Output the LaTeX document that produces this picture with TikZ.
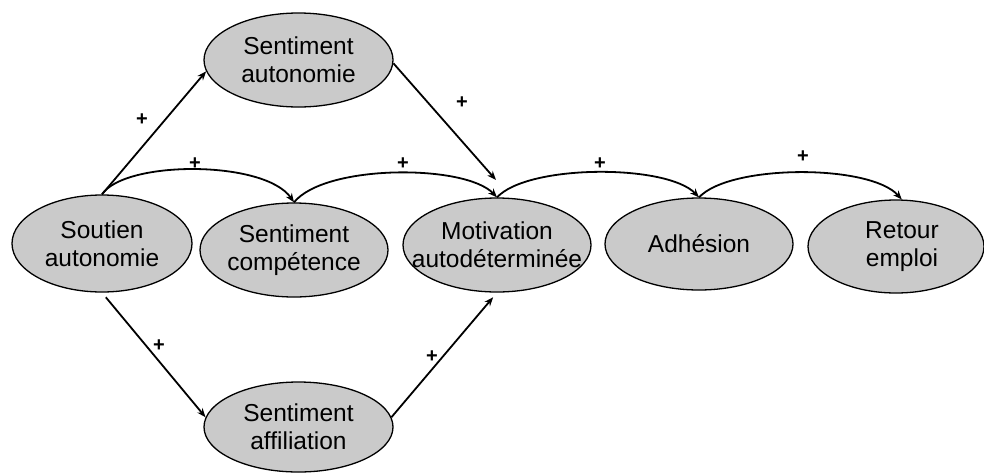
\documentclass[tikz,border=0pt]{standalone}
\usepackage{fontspec}
\setmainfont{Liberation Sans}
\usetikzlibrary{shapes.geometric,arrows.meta}
\definecolor{nodegray}{RGB}{202,202,202}
\begin{document}
\begin{tikzpicture}[x=1pt,y=-1pt,
  ell/.style={ellipse, draw=black, line width=1.3pt, fill=nodegray, inner sep=0pt},
  txt/.style={align=center, inner sep=0pt, font=\fontsize{24.5}{28}\selectfont},
  conn/.style={line width=1.8pt, -{Stealth[length=9pt,width=7pt]}},
  plus/.style={inner sep=0pt, font=\fontsize{20}{20}\selectfont\bfseries}]
\useasboundingbox (0,0) rectangle (984,472);

% ellipses
\node[ell, minimum width=189pt, minimum height=94pt] (SA) at (298.5,60) {};
\node[ell, minimum width=180pt, minimum height=97pt] (SO) at (102,243.5) {};
\node[ell, minimum width=188pt, minimum height=94pt] (SC) at (294,250) {};
\node[ell, minimum width=188pt, minimum height=94pt] (MO) at (497,245) {};
\node[ell, minimum width=188pt, minimum height=92pt] (AD) at (699,244) {};
\node[ell, minimum width=176pt, minimum height=93pt] (RE) at (896,246.5) {};
\node[ell, minimum width=189pt, minimum height=90pt] (AF) at (298.5,427) {};

% texts
\node[txt] (SAt) at (SA) {Sentiment\\autonomie};
\node[txt] (SOt) at (SO) {Soutien\\autonomie};
\node[txt] (SCt) at (SC) {Sentiment\\compétence};
\node[txt] (MOt) at (MO) {Motivation\\autodéterminée};
\node[txt] (ADt) at (AD) {Adhésion};
\node[txt] (REt) at ([xshift=6pt]RE.center) {Retour\\emploi};
\node[txt] (AFt) at (AF) {Sentiment\\affiliation};

% straight connectors
\coordinate (MOtop) at (496,180);
\draw[conn] (SO.north) -- (SA.187);
\draw[conn] (SA.358) -- (MOtop);
\draw[conn, shorten <=6pt] (SO.south) -- (AF.174);
\draw[conn, shorten >=6pt] (AF.6) -- (MO.south);

% curved connectors
\draw[conn] (SO.north) .. controls (125,160) and (265,160) .. (SC.north);
\draw[conn] (SC.north) .. controls (325,164) and (465,164) .. (MO.north);
\draw[conn] (MO.north) .. controls (528,164) and (667,164) .. (AD.north);
\draw[conn] (AD.north) .. controls (730,164) and (870,164) .. (RE.83);

% labels
\node[plus] (p1) at (142,120) {+};
\node[plus] (p2) at (462,103) {+};
\node[plus] (p3) at (195,164) {+};
\node[plus] (p4) at (403,164) {+};
\node[plus] (p5) at (600,164) {+};
\node[plus] (p6) at (803,157) {+};
\node[plus] (p7) at (159,346) {+};
\node[plus] (p8) at (432,357) {+};
\end{tikzpicture}
\end{document}
